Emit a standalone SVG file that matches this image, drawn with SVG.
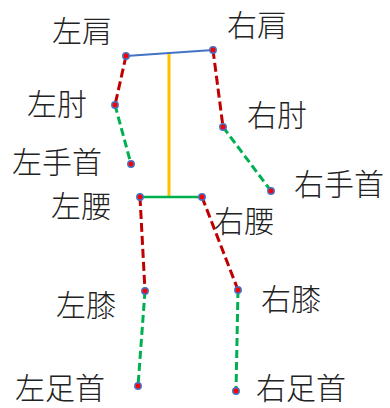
<svg xmlns="http://www.w3.org/2000/svg" width="390" height="408" viewBox="0 0 390 408">
<style>
.lbl{font-family:"Noto Sans CJK JP","Noto Sans CJK SC",sans-serif;font-size:30px;fill:#222;font-weight:300}
.pt{fill:#FF0000;stroke:#4472C4;stroke-width:1.5}
.red{stroke:#C00000;stroke-width:3;stroke-dasharray:9 4;fill:none}
.grn{stroke:#00B050;stroke-width:3;stroke-dasharray:8 4;fill:none}
</style>
<rect width="390" height="408" fill="#fff"/>
<g id="connectors">
<line x1="126" y1="56" x2="213" y2="50" stroke="#4472C4" stroke-width="2"/>
<line x1="169" y1="54" x2="169" y2="197" stroke="#FFC000" stroke-width="3"/>
<line x1="140" y1="197" x2="202" y2="197" stroke="#00B050" stroke-width="2.5"/>
<line class="red" x1="126" y1="56" x2="115" y2="105"/>
<line class="grn" x1="115" y1="105" x2="131" y2="164"/>
<line class="red" x1="213" y1="50" x2="223" y2="127"/>
<line class="grn" x1="223" y1="127" x2="271" y2="191"/>
<line class="red" x1="140" y1="197" x2="145" y2="291"/>
<line class="grn" x1="145" y1="291" x2="138" y2="386"/>
<line class="red" x1="202" y1="197" x2="238" y2="290"/>
<line class="grn" x1="238" y1="290" x2="236" y2="391"/>
</g>
<g id="l-shoulder"><circle class="pt" cx="126" cy="56" r="3.2"/><text class="lbl" x="52" y="42">左肩</text></g>
<g id="r-shoulder"><circle class="pt" cx="213" cy="50" r="3.2"/><text class="lbl" x="227" y="36">右肩</text></g>
<g id="l-elbow"><circle class="pt" cx="115" cy="105" r="3.2"/><text class="lbl" x="27" y="115">左肘</text></g>
<g id="r-elbow"><circle class="pt" cx="223" cy="127" r="3.2"/><text class="lbl" x="247" y="126">右肘</text></g>
<g id="l-wrist"><circle class="pt" cx="131" cy="164" r="3.2"/><text class="lbl" x="12" y="173">左手首</text></g>
<g id="r-wrist"><circle class="pt" cx="271" cy="191" r="3.2"/><text class="lbl" x="294" y="195">右手首</text></g>
<g id="l-hip"><circle class="pt" cx="140" cy="197" r="3.2"/><text class="lbl" x="51" y="217">左腰</text></g>
<g id="r-hip"><circle class="pt" cx="202" cy="197" r="3.2"/><text class="lbl" x="214" y="232">右腰</text></g>
<g id="l-knee"><circle class="pt" cx="145" cy="291" r="3.2"/><text class="lbl" x="56" y="316">左膝</text></g>
<g id="r-knee"><circle class="pt" cx="238" cy="290" r="3.2"/><text class="lbl" x="261" y="310">右膝</text></g>
<g id="l-ankle"><circle class="pt" cx="138" cy="386" r="3.2"/><text class="lbl" x="15" y="399">左足首</text></g>
<g id="r-ankle"><circle class="pt" cx="236" cy="391" r="3.2"/><text class="lbl" x="256" y="399">右足首</text></g>
</svg>
